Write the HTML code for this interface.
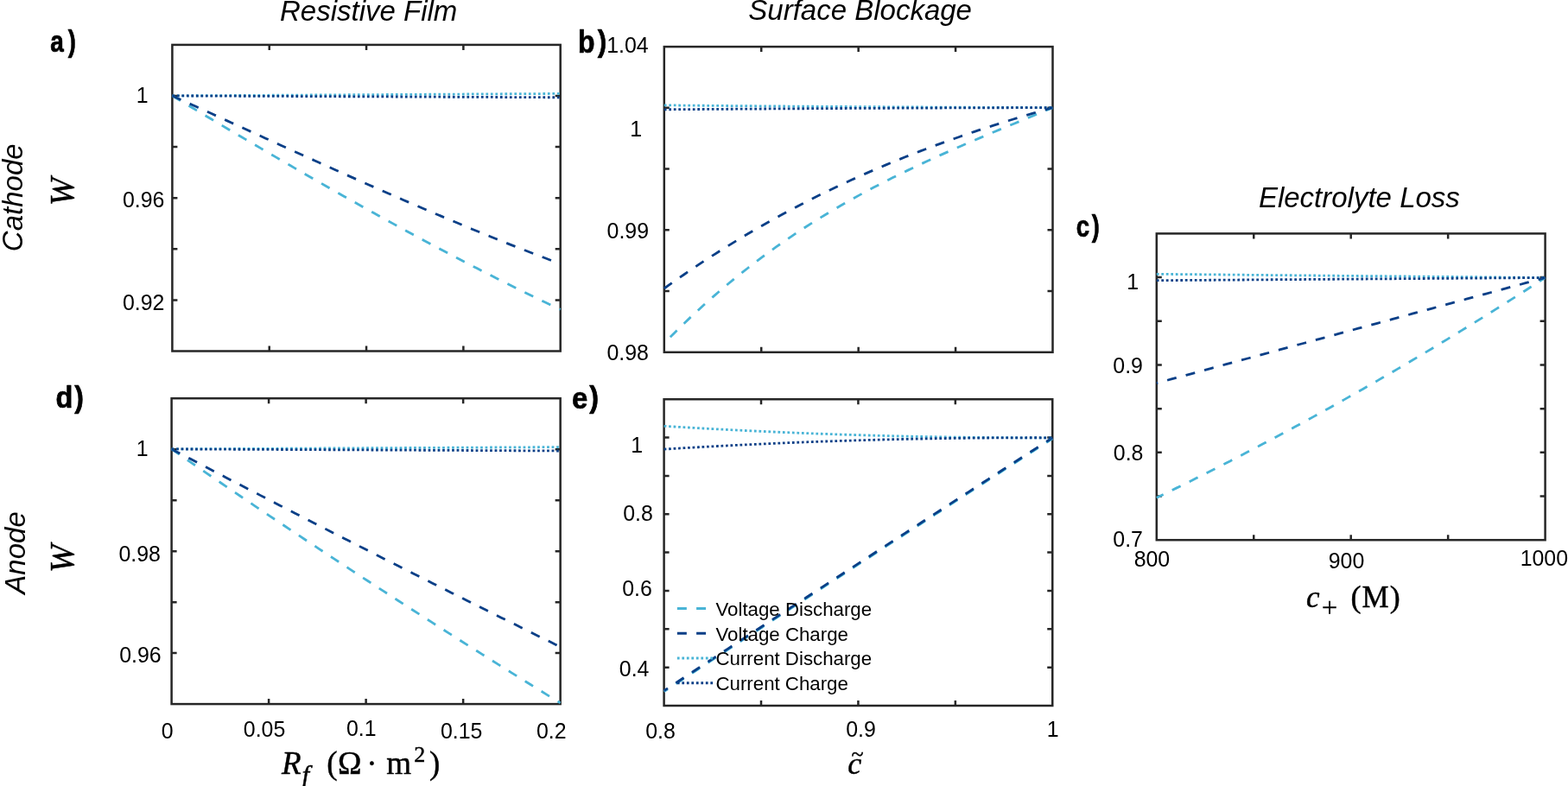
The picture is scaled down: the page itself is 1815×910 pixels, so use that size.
<!DOCTYPE html>
<html lang="en">
<head>
<meta charset="utf-8">
<title>Degradation mechanisms: Resistive Film, Surface Blockage, Electrolyte Loss</title>
<style>
html, body { margin: 0; padding: 0; background: #ffffff; }
body { width: 1815px; height: 910px; overflow: hidden; font-family: "Liberation Sans", sans-serif; }
svg { display: block; }
text { white-space: pre; fill: #000000; }
.ss { font-family: "Liberation Sans", sans-serif; }
.si { font-family: "Liberation Sans", sans-serif; font-style: italic; }
.sb { font-family: "Liberation Sans", sans-serif; font-weight: bold; stroke: #000; stroke-width: 0.7px; stroke-linejoin: round; }
.sr { font-family: "Liberation Serif", "DejaVu Serif", serif; font-style: normal; stroke: #000; stroke-width: 0.45px; }
.sri { font-family: "Liberation Serif", "DejaVu Serif", serif; font-style: italic; stroke: #000; stroke-width: 0.45px; }
.ax { fill: none; stroke: #262626; stroke-width: 2.5; }
.tk { fill: none; stroke: #262626; stroke-width: 2.5; }
.ln { fill: none; stroke-width: 2.8; }
</style>
</head>
<body>
<svg width="1815" height="910" viewBox="0 0 1815 910">
<rect x="0" y="0" width="1815" height="910" fill="#ffffff"/>
<defs>
<clipPath id="ca"><rect x="198.15" y="50.65" width="451.80" height="357.10"/></clipPath>
<clipPath id="cb"><rect x="767.55" y="52.85" width="452.20" height="356.20"/></clipPath>
<clipPath id="cc"><rect x="1337.55" y="269.15" width="452.30" height="357.30"/></clipPath>
<clipPath id="cd"><rect x="197.35" y="459.95" width="452.55" height="356.40"/></clipPath>
<clipPath id="ce"><rect x="767.35" y="461.00" width="452.15" height="357.25"/></clipPath>
</defs>
<g id="panel-a">
<path class="tk" d="M311.73 406.50V400.50M311.73 51.90V57.90M424.05 406.50V400.50M424.05 51.90V57.90M536.38 406.50V400.50M536.38 51.90V57.90M199.40 111.00H205.40M648.70 111.00H642.70M199.40 170.10H205.40M648.70 170.10H642.70M199.40 229.20H205.40M648.70 229.20H642.70M199.40 288.30H205.40M648.70 288.30H642.70M199.40 347.40H205.40M648.70 347.40H642.70"/>
<rect class="ax" x="199.40" y="51.90" width="449.30" height="354.60"/>
<path class="ln" d="M199.40 110.90L205.09 114.31L210.77 117.71L216.46 121.11L222.15 124.51L227.84 127.90L233.52 131.29L239.21 134.68L244.90 138.07L250.59 141.45L256.27 144.82L261.96 148.19L267.65 151.56L273.34 154.92L279.02 158.28L284.71 161.64L290.40 164.98L296.08 168.33L301.77 171.66L307.46 175.00L313.15 178.32L318.83 181.64L324.52 184.96L330.21 188.27L335.90 191.57L341.58 194.86L347.27 198.15L352.96 201.43L358.65 204.71L364.33 207.97L370.02 211.23L375.71 214.48L381.39 217.73L387.08 220.97L392.77 224.19L398.46 227.41L404.14 230.62L409.83 233.83L415.52 237.02L421.21 240.21L426.89 243.38L432.58 246.55L438.27 249.71L443.96 252.85L449.64 255.99L455.33 259.12L461.02 262.24L466.71 265.34L472.39 268.44L478.08 271.52L483.77 274.60L489.45 277.66L495.14 280.72L500.83 283.76L506.52 286.79L512.20 289.81L517.89 292.81L523.58 295.81L529.27 298.79L534.95 301.76L540.64 304.72L546.33 307.66L552.02 310.59L557.70 313.51L563.39 316.42L569.08 319.31L574.76 322.19L580.45 325.05L586.14 327.90L591.83 330.74L597.51 333.56L603.20 336.37L608.89 339.17L614.58 341.95L620.26 344.71L625.95 347.46L631.64 350.19L637.33 352.91L643.01 355.61L648.70 358.30" stroke="#49B4D6" stroke-dasharray="11.0 11.25" clip-path="url(#ca)"/>
<path class="ln" d="M199.40 110.90L205.09 113.48L210.77 116.06L216.46 118.65L222.15 121.24L227.84 123.83L233.52 126.42L239.21 129.01L244.90 131.60L250.59 134.20L256.27 136.79L261.96 139.39L267.65 141.99L273.34 144.58L279.02 147.18L284.71 149.78L290.40 152.37L296.08 154.97L301.77 157.56L307.46 160.15L313.15 162.74L318.83 165.33L324.52 167.92L330.21 170.51L335.90 173.09L341.58 175.67L347.27 178.25L352.96 180.83L358.65 183.40L364.33 185.97L370.02 188.54L375.71 191.10L381.39 193.66L387.08 196.21L392.77 198.76L398.46 201.30L404.14 203.85L409.83 206.38L415.52 208.91L421.21 211.44L426.89 213.95L432.58 216.47L438.27 218.97L443.96 221.47L449.64 223.97L455.33 226.46L461.02 228.94L466.71 231.41L472.39 233.88L478.08 236.33L483.77 238.79L489.45 241.23L495.14 243.66L500.83 246.09L506.52 248.51L512.20 250.91L517.89 253.31L523.58 255.70L529.27 258.08L534.95 260.45L540.64 262.82L546.33 265.17L552.02 267.51L557.70 269.84L563.39 272.16L569.08 274.46L574.76 276.76L580.45 279.05L586.14 281.32L591.83 283.58L597.51 285.83L603.20 288.07L608.89 290.29L614.58 292.51L620.26 294.70L625.95 296.89L631.64 299.06L637.33 301.22L643.01 303.37L648.70 305.50" stroke="#0A3F87" stroke-dasharray="11.0 11.25" clip-path="url(#ca)"/>
<path class="ln" d="M199.40 110.90L648.70 108.40" stroke="#49B4D6" stroke-dasharray="2.75 2.75" clip-path="url(#ca)"/>
<path class="ln" d="M199.40 110.90L648.70 112.80" stroke="#0A3F87" stroke-dasharray="2.75 2.75" clip-path="url(#ca)"/>
<text class="ss" x="157.69" y="118.50" font-size="24.9">1</text>
<text class="ss" x="141.90" y="239.80" font-size="24.9">0.96</text>
<text class="ss" x="141.88" y="359.40" font-size="24.9">0.92</text>
</g>
<g id="panel-b">
<path class="tk" d="M881.22 407.80V401.80M881.22 54.10V60.10M993.65 407.80V401.80M993.65 54.10V60.10M1106.08 407.80V401.80M1106.08 54.10V60.10M768.80 124.84H774.80M1218.50 124.84H1212.50M768.80 195.58H774.80M1218.50 195.58H1212.50M768.80 266.32H774.80M1218.50 266.32H1212.50M768.80 337.06H774.80M1218.50 337.06H1212.50"/>
<rect class="ax" x="768.80" y="54.10" width="449.70" height="353.70"/>
<path class="ln" d="M775.80 390.30L781.40 384.69L787.01 379.16L792.61 373.73L798.22 368.38L803.82 363.11L809.42 357.93L815.03 352.83L820.63 347.82L826.23 342.88L831.84 338.02L837.44 333.25L843.05 328.54L848.65 323.92L854.25 319.36L859.86 314.88L865.46 310.48L871.06 306.14L876.67 301.87L882.27 297.67L887.88 293.54L893.48 289.47L899.08 285.47L904.69 281.53L910.29 277.65L915.89 273.84L921.50 270.08L927.10 266.38L932.71 262.74L938.31 259.16L943.91 255.63L949.52 252.15L955.12 248.73L960.73 245.36L966.33 242.04L971.93 238.76L977.54 235.54L983.14 232.36L988.74 229.22L994.35 226.13L999.95 223.08L1005.56 220.08L1011.16 217.11L1016.76 214.18L1022.37 211.29L1027.97 208.44L1033.57 205.62L1039.18 202.84L1044.78 200.09L1050.39 197.37L1055.99 194.69L1061.59 192.03L1067.20 189.40L1072.80 186.80L1078.41 184.22L1084.01 181.67L1089.61 179.14L1095.22 176.63L1100.82 174.14L1106.42 171.68L1112.03 169.23L1117.63 166.80L1123.24 164.38L1128.84 161.98L1134.44 159.59L1140.05 157.22L1145.65 154.86L1151.25 152.50L1156.86 150.16L1162.46 147.82L1168.07 145.49L1173.67 143.17L1179.27 140.84L1184.88 138.52L1190.48 136.21L1196.08 133.89L1201.69 131.57L1207.29 129.25L1212.90 126.93L1218.50 124.60" stroke="#49B4D6" stroke-dasharray="11.0 11.25" clip-path="url(#cb)"/>
<path class="ln" d="M768.80 334.00L774.49 329.93L780.18 325.90L785.88 321.93L791.57 317.99L797.26 314.10L802.95 310.26L808.65 306.46L814.34 302.70L820.03 298.99L825.72 295.32L831.42 291.70L837.11 288.11L842.80 284.57L848.49 281.07L854.19 277.61L859.88 274.19L865.57 270.81L871.26 267.48L876.96 264.18L882.65 260.92L888.34 257.70L894.03 254.52L899.73 251.37L905.42 248.27L911.11 245.20L916.80 242.17L922.49 239.18L928.19 236.22L933.88 233.30L939.57 230.41L945.26 227.56L950.96 224.74L956.65 221.96L962.34 219.21L968.03 216.50L973.73 213.81L979.42 211.17L985.11 208.55L990.80 205.97L996.50 203.41L1002.19 200.89L1007.88 198.40L1013.57 195.94L1019.27 193.51L1024.96 191.12L1030.65 188.75L1036.34 186.41L1042.04 184.09L1047.73 181.81L1053.42 179.55L1059.11 177.33L1064.81 175.13L1070.50 172.95L1076.19 170.80L1081.88 168.68L1087.57 166.59L1093.27 164.52L1098.96 162.47L1104.65 160.45L1110.34 158.45L1116.04 156.48L1121.73 154.53L1127.42 152.60L1133.11 150.70L1138.81 148.82L1144.50 146.96L1150.19 145.12L1155.88 143.30L1161.58 141.51L1167.27 139.73L1172.96 137.97L1178.65 136.24L1184.35 134.52L1190.04 132.82L1195.73 131.14L1201.42 129.48L1207.12 127.84L1212.81 126.21L1218.50 124.60" stroke="#0A3F87" stroke-dasharray="11.0 11.25" clip-path="url(#cb)"/>
<path class="ln" d="M768.80 121.85L784.31 121.99L799.81 122.14L815.32 122.27L830.83 122.41L846.33 122.54L861.84 122.67L877.35 122.79L892.86 122.91L908.36 123.02L923.87 123.14L939.38 123.25L954.88 123.35L970.39 123.45L985.90 123.55L1001.40 123.65L1016.91 123.74L1032.42 123.83L1047.92 123.91L1063.43 123.99L1078.94 124.07L1094.44 124.14L1109.95 124.21L1125.46 124.28L1140.97 124.34L1156.47 124.40L1171.98 124.45L1187.49 124.51L1202.99 124.56L1218.50 124.60" stroke="#49B4D6" stroke-dasharray="2.75 2.75" clip-path="url(#cb)"/>
<path class="ln" d="M768.80 126.80L784.31 126.68L799.81 126.57L815.32 126.46L830.83 126.35L846.33 126.25L861.84 126.15L877.35 126.05L892.86 125.95L908.36 125.86L923.87 125.77L939.38 125.68L954.88 125.60L970.39 125.52L985.90 125.44L1001.40 125.36L1016.91 125.29L1032.42 125.22L1047.92 125.15L1063.43 125.09L1078.94 125.03L1094.44 124.97L1109.95 124.91L1125.46 124.86L1140.97 124.81L1156.47 124.76L1171.98 124.72L1187.49 124.67L1202.99 124.64L1218.50 124.60" stroke="#0A3F87" stroke-dasharray="2.75 2.75" clip-path="url(#cb)"/>
<text class="ss" x="702.18" y="60.50" font-size="24.9">1.04</text>
<text class="ss" x="729.34" y="157.50" font-size="24.9">1</text>
<text class="ss" x="702.60" y="276.20" font-size="24.9">0.99</text>
<text class="ss" x="702.45" y="417.00" font-size="24.9">0.98</text>
</g>
<g id="panel-c">
<path class="tk" d="M1451.25 625.20V619.20M1451.25 270.40V276.40M1563.70 625.20V619.20M1563.70 270.40V276.40M1676.15 625.20V619.20M1676.15 270.40V276.40M1338.80 321.09H1344.80M1788.60 321.09H1782.60M1338.80 371.77H1344.80M1788.60 371.77H1782.60M1338.80 422.46H1344.80M1788.60 422.46H1782.60M1338.80 473.14H1344.80M1788.60 473.14H1782.60M1338.80 523.83H1344.80M1788.60 523.83H1782.60M1338.80 574.51H1344.80M1788.60 574.51H1782.60"/>
<rect class="ax" x="1338.80" y="270.40" width="449.80" height="354.80"/>
<path class="ln" d="M1338.80 576.20L1344.49 573.45L1350.19 570.69L1355.88 567.91L1361.57 565.12L1367.27 562.32L1372.96 559.51L1378.66 556.68L1384.35 553.84L1390.04 550.99L1395.74 548.13L1401.43 545.26L1407.12 542.37L1412.82 539.47L1418.51 536.57L1424.21 533.64L1429.90 530.71L1435.59 527.76L1441.29 524.80L1446.98 521.83L1452.67 518.85L1458.37 515.86L1464.06 512.85L1469.75 509.83L1475.45 506.80L1481.14 503.76L1486.84 500.70L1492.53 497.64L1498.22 494.56L1503.92 491.47L1509.61 488.36L1515.30 485.25L1521.00 482.12L1526.69 478.98L1532.38 475.83L1538.08 472.67L1543.77 469.49L1549.47 466.30L1555.16 463.10L1560.85 459.89L1566.55 456.67L1572.24 453.43L1577.93 450.18L1583.63 446.92L1589.32 443.65L1595.02 440.36L1600.71 437.07L1606.40 433.76L1612.10 430.44L1617.79 427.11L1623.48 423.76L1629.18 420.40L1634.87 417.03L1640.56 413.65L1646.26 410.26L1651.95 406.85L1657.65 403.44L1663.34 400.01L1669.03 396.57L1674.73 393.11L1680.42 389.65L1686.11 386.17L1691.81 382.68L1697.50 379.18L1703.19 375.66L1708.89 372.13L1714.58 368.60L1720.28 365.05L1725.97 361.48L1731.66 357.91L1737.36 354.32L1743.05 350.72L1748.74 347.11L1754.44 343.49L1760.13 339.85L1765.83 336.21L1771.52 332.55L1777.21 328.88L1782.91 325.19L1788.60 321.50" stroke="#49B4D6" stroke-dasharray="11.0 11.25" stroke-dashoffset="2.3" clip-path="url(#cc)"/>
<path class="ln" d="M1338.80 443.60L1344.49 442.05L1350.19 440.51L1355.88 438.96L1361.57 437.42L1367.27 435.87L1372.96 434.33L1378.66 432.78L1384.35 431.23L1390.04 429.69L1395.74 428.14L1401.43 426.60L1407.12 425.05L1412.82 423.50L1418.51 421.96L1424.21 420.41L1429.90 418.87L1435.59 417.32L1441.29 415.77L1446.98 414.23L1452.67 412.68L1458.37 411.14L1464.06 409.59L1469.75 408.05L1475.45 406.50L1481.14 404.95L1486.84 403.41L1492.53 401.86L1498.22 400.32L1503.92 398.77L1509.61 397.23L1515.30 395.68L1521.00 394.13L1526.69 392.59L1532.38 391.04L1538.08 389.50L1543.77 387.95L1549.47 386.41L1555.16 384.86L1560.85 383.31L1566.55 381.77L1572.24 380.22L1577.93 378.68L1583.63 377.13L1589.32 375.59L1595.02 374.04L1600.71 372.50L1606.40 370.95L1612.10 369.40L1617.79 367.86L1623.48 366.31L1629.18 364.77L1634.87 363.22L1640.56 361.68L1646.26 360.13L1651.95 358.59L1657.65 357.04L1663.34 355.50L1669.03 353.95L1674.73 352.40L1680.42 350.86L1686.11 349.31L1691.81 347.77L1697.50 346.22L1703.19 344.68L1708.89 343.13L1714.58 341.59L1720.28 340.04L1725.97 338.50L1731.66 336.95L1737.36 335.41L1743.05 333.86L1748.74 332.32L1754.44 330.77L1760.13 329.23L1765.83 327.68L1771.52 326.13L1777.21 324.59L1782.91 323.04L1788.60 321.50" stroke="#0A3F87" stroke-dasharray="11.0 11.25" stroke-dashoffset="9.5" clip-path="url(#cc)"/>
<path class="ln" d="M1338.80 317.30L1788.60 321.50" stroke="#49B4D6" stroke-dasharray="2.75 2.75" clip-path="url(#cc)"/>
<path class="ln" d="M1338.80 324.70L1788.60 321.50" stroke="#0A3F87" stroke-dasharray="2.75 2.75" clip-path="url(#cc)"/>
<text class="ss" x="1304.19" y="334.60" font-size="24.9">1</text>
<text class="ss" x="1288.35" y="431.60" font-size="24.9">0.9</text>
<text class="ss" x="1288.80" y="533.20" font-size="24.9">0.8</text>
<text class="ss" x="1288.37" y="633.20" font-size="24.9">0.7</text>
<text class="ss" x="1312.63" y="655.60" font-size="24.9">800</text>
<text class="ss" x="1537.77" y="658.00" font-size="24.9">900</text>
<text class="ss" x="1759.63" y="655.20" font-size="24.9">1000</text>
</g>
<g id="panel-d">
<path class="tk" d="M311.11 815.10V809.10M311.11 461.20V467.20M423.62 815.10V809.10M423.62 461.20V467.20M536.14 815.10V809.10M536.14 461.20V467.20M198.60 520.18H204.60M648.65 520.18H642.65M198.60 579.17H204.60M648.65 579.17H642.65M198.60 638.15H204.60M648.65 638.15H642.65M198.60 697.13H204.60M648.65 697.13H642.65M198.60 756.12H204.60M648.65 756.12H642.65"/>
<rect class="ax" x="198.60" y="461.20" width="450.05" height="353.90"/>
<path class="ln" d="M198.60 519.90L204.30 523.83L209.99 527.76L215.69 531.69L221.39 535.61L227.08 539.52L232.78 543.43L238.48 547.33L244.17 551.23L249.87 555.12L255.57 559.00L261.27 562.88L266.96 566.76L272.66 570.63L278.36 574.49L284.05 578.35L289.75 582.20L295.45 586.05L301.14 589.89L306.84 593.73L312.54 597.56L318.23 601.38L323.93 605.20L329.63 609.02L335.32 612.83L341.02 616.63L346.72 620.43L352.41 624.22L358.11 628.01L363.81 631.79L369.51 635.57L375.20 639.34L380.90 643.10L386.60 646.86L392.29 650.62L397.99 654.37L403.69 658.11L409.38 661.85L415.08 665.58L420.78 669.31L426.47 673.03L432.17 676.75L437.87 680.46L443.56 684.16L449.26 687.86L454.96 691.56L460.65 695.24L466.35 698.93L472.05 702.61L477.74 706.28L483.44 709.94L489.14 713.61L494.84 717.26L500.53 720.91L506.23 724.56L511.93 728.20L517.62 731.83L523.32 735.46L529.02 739.08L534.71 742.70L540.41 746.31L546.11 749.92L551.80 753.52L557.50 757.12L563.20 760.71L568.89 764.29L574.59 767.87L580.29 771.45L585.98 775.01L591.68 778.58L597.38 782.14L603.08 785.69L608.77 789.23L614.47 792.78L620.17 796.31L625.86 799.84L631.56 803.37L637.26 806.89L642.95 810.40L648.65 813.91" stroke="#49B4D6" stroke-dasharray="11.0 11.25" clip-path="url(#cd)"/>
<path class="ln" d="M198.60 519.90L204.30 522.89L209.99 525.88L215.69 528.87L221.39 531.85L227.08 534.83L232.78 537.81L238.48 540.79L244.17 543.76L249.87 546.74L255.57 549.71L261.27 552.67L266.96 555.64L272.66 558.60L278.36 561.56L284.05 564.52L289.75 567.48L295.45 570.43L301.14 573.38L306.84 576.33L312.54 579.28L318.23 582.22L323.93 585.16L329.63 588.10L335.32 591.04L341.02 593.97L346.72 596.91L352.41 599.84L358.11 602.77L363.81 605.69L369.51 608.61L375.20 611.54L380.90 614.45L386.60 617.37L392.29 620.28L397.99 623.20L403.69 626.10L409.38 629.01L415.08 631.92L420.78 634.82L426.47 637.72L432.17 640.61L437.87 643.51L443.56 646.40L449.26 649.29L454.96 652.18L460.65 655.07L466.35 657.95L472.05 660.83L477.74 663.71L483.44 666.59L489.14 669.46L494.84 672.33L500.53 675.20L506.23 678.07L511.93 680.93L517.62 683.80L523.32 686.66L529.02 689.51L534.71 692.37L540.41 695.22L546.11 698.07L551.80 700.92L557.50 703.77L563.20 706.61L568.89 709.45L574.59 712.29L580.29 715.13L585.98 717.96L591.68 720.79L597.38 723.62L603.08 726.45L608.77 729.27L614.47 732.10L620.17 734.92L625.86 737.73L631.56 740.55L637.26 743.36L642.95 746.17L648.65 748.98" stroke="#0A3F87" stroke-dasharray="11.0 11.25" clip-path="url(#cd)"/>
<path class="ln" d="M198.60 519.90L648.65 517.60" stroke="#49B4D6" stroke-dasharray="2.75 2.75" clip-path="url(#cd)"/>
<path class="ln" d="M198.60 519.90L648.65 522.00" stroke="#0A3F87" stroke-dasharray="2.75 2.75" clip-path="url(#cd)"/>
<text class="ss" x="157.64" y="527.70" font-size="24.9">1</text>
<text class="ss" x="137.45" y="649.60" font-size="24.9">0.98</text>
<text class="ss" x="138.25" y="767.10" font-size="24.9">0.96</text>
<text class="ss" x="186.65" y="854.50" font-size="24.9">0</text>
<text class="ss" x="281.83" y="852.80" font-size="24.9">0.05</text>
<text class="ss" x="401.01" y="852.40" font-size="24.9">0.1</text>
<text class="ss" x="509.93" y="854.60" font-size="24.9">0.15</text>
<text class="ss" x="620.88" y="854.50" font-size="24.9">0.2</text>
</g>
<g id="panel-e">
<path class="tk" d="M881.01 817.00V811.00M881.01 462.25V468.25M993.42 817.00V811.00M993.42 462.25V468.25M1105.84 817.00V811.00M1105.84 462.25V468.25M768.60 506.59H774.60M1218.25 506.59H1212.25M768.60 550.94H774.60M1218.25 550.94H1212.25M768.60 595.28H774.60M1218.25 595.28H1212.25M768.60 639.62H774.60M1218.25 639.62H1212.25M768.60 683.97H774.60M1218.25 683.97H1212.25M768.60 728.31H774.60M1218.25 728.31H1212.25M768.60 772.66H774.60M1218.25 772.66H1212.25"/>
<rect class="ax" x="768.60" y="462.25" width="449.65" height="354.75"/>
<path class="ln" d="M768.60 800.70L774.29 796.96L779.98 793.21L785.68 789.47L791.37 785.73L797.06 781.99L802.75 778.25L808.44 774.51L814.13 770.77L819.83 767.03L825.52 763.30L831.21 759.56L836.90 755.83L842.59 752.09L848.28 748.36L853.98 744.63L859.67 740.90L865.36 737.17L871.05 733.44L876.74 729.71L882.44 725.99L888.13 722.26L893.82 718.54L899.51 714.81L905.20 711.09L910.89 707.37L916.59 703.65L922.28 699.93L927.97 696.21L933.66 692.49L939.35 688.77L945.04 685.06L950.74 681.34L956.43 677.63L962.12 673.91L967.81 670.20L973.50 666.49L979.20 662.78L984.89 659.07L990.58 655.36L996.27 651.65L1001.96 647.95L1007.65 644.24L1013.35 640.54L1019.04 636.83L1024.73 633.13L1030.42 629.43L1036.11 625.73L1041.81 622.03L1047.50 618.33L1053.19 614.63L1058.88 610.93L1064.57 607.24L1070.26 603.54L1075.96 599.85L1081.65 596.15L1087.34 592.46L1093.03 588.77L1098.72 585.08L1104.41 581.39L1110.11 577.70L1115.80 574.01L1121.49 570.33L1127.18 566.64L1132.87 562.96L1138.57 559.27L1144.26 555.59L1149.95 551.91L1155.64 548.23L1161.33 544.55L1167.02 540.87L1172.72 537.19L1178.41 533.51L1184.10 529.84L1189.79 526.16L1195.48 522.49L1201.17 518.81L1206.87 515.14L1212.56 511.47L1218.25 507.80" stroke="#49B4D6" stroke-dasharray="11.0 11.25" stroke-dashoffset="5.8" clip-path="url(#ce)"/>
<path class="ln" d="M768.60 799.70L774.29 795.96L779.98 792.21L785.68 788.47L791.37 784.73L797.06 780.99L802.75 777.25L808.44 773.51L814.13 769.77L819.83 766.03L825.52 762.30L831.21 758.56L836.90 754.83L842.59 751.09L848.28 747.36L853.98 743.63L859.67 739.90L865.36 736.17L871.05 732.44L876.74 728.71L882.44 724.99L888.13 721.26L893.82 717.54L899.51 713.81L905.20 710.09L910.89 706.37L916.59 702.65L922.28 698.93L927.97 695.21L933.66 691.49L939.35 687.77L945.04 684.06L950.74 680.34L956.43 676.63L962.12 672.91L967.81 669.20L973.50 665.49L979.20 661.78L984.89 658.07L990.58 654.36L996.27 650.65L1001.96 646.95L1007.65 643.24L1013.35 639.54L1019.04 635.83L1024.73 632.13L1030.42 628.43L1036.11 624.73L1041.81 621.03L1047.50 617.33L1053.19 613.63L1058.88 609.93L1064.57 606.24L1070.26 602.54L1075.96 598.85L1081.65 595.15L1087.34 591.46L1093.03 587.77L1098.72 584.08L1104.41 580.39L1110.11 576.70L1115.80 573.01L1121.49 569.33L1127.18 565.64L1132.87 561.96L1138.57 558.27L1144.26 554.59L1149.95 550.91L1155.64 547.23L1161.33 543.55L1167.02 539.87L1172.72 536.19L1178.41 532.51L1184.10 528.84L1189.79 525.16L1195.48 521.49L1201.17 517.81L1206.87 514.14L1212.56 510.47L1218.25 506.80" stroke="#0A3F87" stroke-dasharray="11.0 11.25" stroke-dashoffset="5.8" clip-path="url(#ce)"/>
<path class="ln" d="M768.60 493.30L774.29 493.65L779.98 494.00L785.68 494.34L791.37 494.68L797.06 495.01L802.75 495.34L808.44 495.66L814.13 495.98L819.83 496.30L825.52 496.61L831.21 496.91L836.90 497.21L842.59 497.51L848.28 497.80L853.98 498.09L859.67 498.37L865.36 498.65L871.05 498.92L876.74 499.19L882.44 499.45L888.13 499.71L893.82 499.97L899.51 500.22L905.20 500.46L910.89 500.70L916.59 500.94L922.28 501.17L927.97 501.40L933.66 501.62L939.35 501.83L945.04 502.05L950.74 502.26L956.43 502.46L962.12 502.66L967.81 502.85L973.50 503.04L979.20 503.23L984.89 503.41L990.58 503.58L996.27 503.75L1001.96 503.92L1007.65 504.08L1013.35 504.24L1019.04 504.39L1024.73 504.54L1030.42 504.68L1036.11 504.82L1041.81 504.95L1047.50 505.08L1053.19 505.21L1058.88 505.33L1064.57 505.44L1070.26 505.55L1075.96 505.66L1081.65 505.76L1087.34 505.86L1093.03 505.95L1098.72 506.04L1104.41 506.12L1110.11 506.20L1115.80 506.27L1121.49 506.34L1127.18 506.40L1132.87 506.46L1138.57 506.52L1144.26 506.57L1149.95 506.61L1155.64 506.65L1161.33 506.69L1167.02 506.72L1172.72 506.75L1178.41 506.77L1184.10 506.79L1189.79 506.80L1195.48 506.81L1201.17 506.82L1206.87 506.82L1212.56 506.81L1218.25 506.80" stroke="#49B4D6" stroke-dasharray="2.75 2.75" clip-path="url(#ce)"/>
<path class="ln" d="M768.60 520.10L774.29 519.75L779.98 519.40L785.68 519.06L791.37 518.72L797.06 518.39L802.75 518.06L808.44 517.74L814.13 517.42L819.83 517.11L825.52 516.80L831.21 516.49L836.90 516.19L842.59 515.90L848.28 515.61L853.98 515.32L859.67 515.04L865.36 514.77L871.05 514.49L876.74 514.23L882.44 513.97L888.13 513.71L893.82 513.45L899.51 513.21L905.20 512.96L910.89 512.72L916.59 512.49L922.28 512.26L927.97 512.04L933.66 511.82L939.35 511.60L945.04 511.39L950.74 511.18L956.43 510.98L962.12 510.79L967.81 510.60L973.50 510.41L979.20 510.23L984.89 510.05L990.58 509.88L996.27 509.71L1001.96 509.54L1007.65 509.38L1013.35 509.23L1019.04 509.08L1024.73 508.94L1030.42 508.80L1036.11 508.66L1041.81 508.53L1047.50 508.40L1053.19 508.28L1058.88 508.16L1064.57 508.05L1070.26 507.94L1075.96 507.84L1081.65 507.74L1087.34 507.65L1093.03 507.56L1098.72 507.48L1104.41 507.40L1110.11 507.32L1115.80 507.25L1121.49 507.19L1127.18 507.13L1132.87 507.07L1138.57 507.02L1144.26 506.98L1149.95 506.93L1155.64 506.90L1161.33 506.87L1167.02 506.84L1172.72 506.81L1178.41 506.80L1184.10 506.78L1189.79 506.77L1195.48 506.77L1201.17 506.77L1206.87 506.78L1212.56 506.79L1218.25 506.80" stroke="#0A3F87" stroke-dasharray="2.75 2.75" clip-path="url(#ce)"/>
<text class="ss" x="730.34" y="524.20" font-size="24.9">1</text>
<text class="ss" x="721.15" y="603.20" font-size="24.9">0.8</text>
<text class="ss" x="720.20" y="689.80" font-size="24.9">0.6</text>
<text class="ss" x="716.82" y="782.60" font-size="24.9">0.4</text>
<text class="ss" x="747.17" y="854.60" font-size="24.9">0.8</text>
<text class="ss" x="979.20" y="852.60" font-size="24.9">0.9</text>
<text class="ss" x="1211.79" y="852.60" font-size="24.9">1</text>
<path class="ln" d="M783.85 704.50L826.00 704.50" stroke="#49B4D6" stroke-dasharray="11.0 11.25"/>
<text class="ss" x="828.50" y="712.80" font-size="22.25">Voltage Discharge</text>
<path class="ln" d="M783.85 733.25L826.00 733.25" stroke="#0A3F87" stroke-dasharray="11.0 11.25"/>
<text class="ss" x="828.50" y="741.50" font-size="22.25">Voltage Charge</text>
<path class="ln" d="M783.85 762.00L826.00 762.00" stroke="#49B4D6" stroke-dasharray="2.75 2.75"/>
<text class="ss" x="828.50" y="770.20" font-size="22.25">Current Discharge</text>
<path class="ln" d="M783.85 790.75L826.00 790.75" stroke="#0A3F87" stroke-dasharray="2.75 2.75"/>
<text class="ss" x="828.50" y="798.90" font-size="22.25">Current Charge</text>
</g>
<text class="si" x="324.03" y="23.70" font-size="33">Resistive Film</text>
<text class="si" x="866.32" y="23.10" font-size="33">Surface Blockage</text>
<text class="si" x="1456.91" y="239.90" font-size="33">Electrolyte Loss</text>
<text class="si" transform="translate(26.00 291.13) rotate(-90)" font-size="33">Cathode</text>
<text class="si" transform="translate(29.00 687.64) rotate(-90)" font-size="33">Anode</text>
<text class="sri" transform="translate(85.30 238.20) rotate(-90)" font-size="39">W</text>
<text class="sri" transform="translate(85.30 663.00) rotate(-90)" font-size="39">W</text>
<text class="sb" font-size="36" transform="translate(58.18 60.40) scale(0.776 1)">a<tspan font-size="35.3" dx="6.55" dy="-0.7">)</tspan></text>
<text class="sb" font-size="36" transform="translate(669.09 60.50) scale(0.888 1)">b<tspan font-size="35.3" dx="3.54" dy="-0.7">)</tspan></text>
<text class="sb" font-size="36" transform="translate(1245.72 274.20) scale(0.769 1)">c<tspan font-size="35.3" dx="3.36" dy="-0.7">)</tspan></text>
<text class="sb" font-size="36" transform="translate(64.57 472.20) scale(0.904 1)">d<tspan font-size="35.3" dx="2.12" dy="-0.7">)</tspan></text>
<text class="sb" font-size="36" transform="translate(662.11 472.70) scale(0.915 1)">e<tspan font-size="35.3" dx="2.06" dy="-0.7">)</tspan></text>
<text><tspan class="sri" x="326.11" y="895.70" font-size="37">R</tspan><tspan class="sri" x="349.53" y="907.60" font-size="31">f</tspan><tspan class="sr" x="378.27" y="895.70" font-size="37">(</tspan><tspan class="sr" x="391.00" y="895.70" font-size="37">Ω</tspan><tspan class="sr" x="424.34" y="895.70" font-size="37">·</tspan><tspan class="sr" x="447.31" y="895.70" font-size="37">m</tspan><tspan class="sr" x="479.15" y="881.60" font-size="26">2</tspan><tspan class="sr" x="496.96" y="895.70" font-size="37">)</tspan></text>
<text><tspan class="sri" x="981.30" y="896.10" font-size="36">c</tspan><tspan class="sr" x="985.38" y="881.30" font-size="26">~</tspan></text>
<text><tspan class="sri" x="1511.88" y="702.80" font-size="35">c</tspan><tspan class="sr" x="1530.06" y="714.00" font-size="32">+</tspan><tspan class="sr" x="1563.39" y="703.00" font-size="36">(</tspan><tspan class="sr" x="1576.45" y="703.00" font-size="35">M</tspan><tspan class="sr" x="1608.72" y="703.00" font-size="36">)</tspan></text>
</svg>
</body>
</html>
